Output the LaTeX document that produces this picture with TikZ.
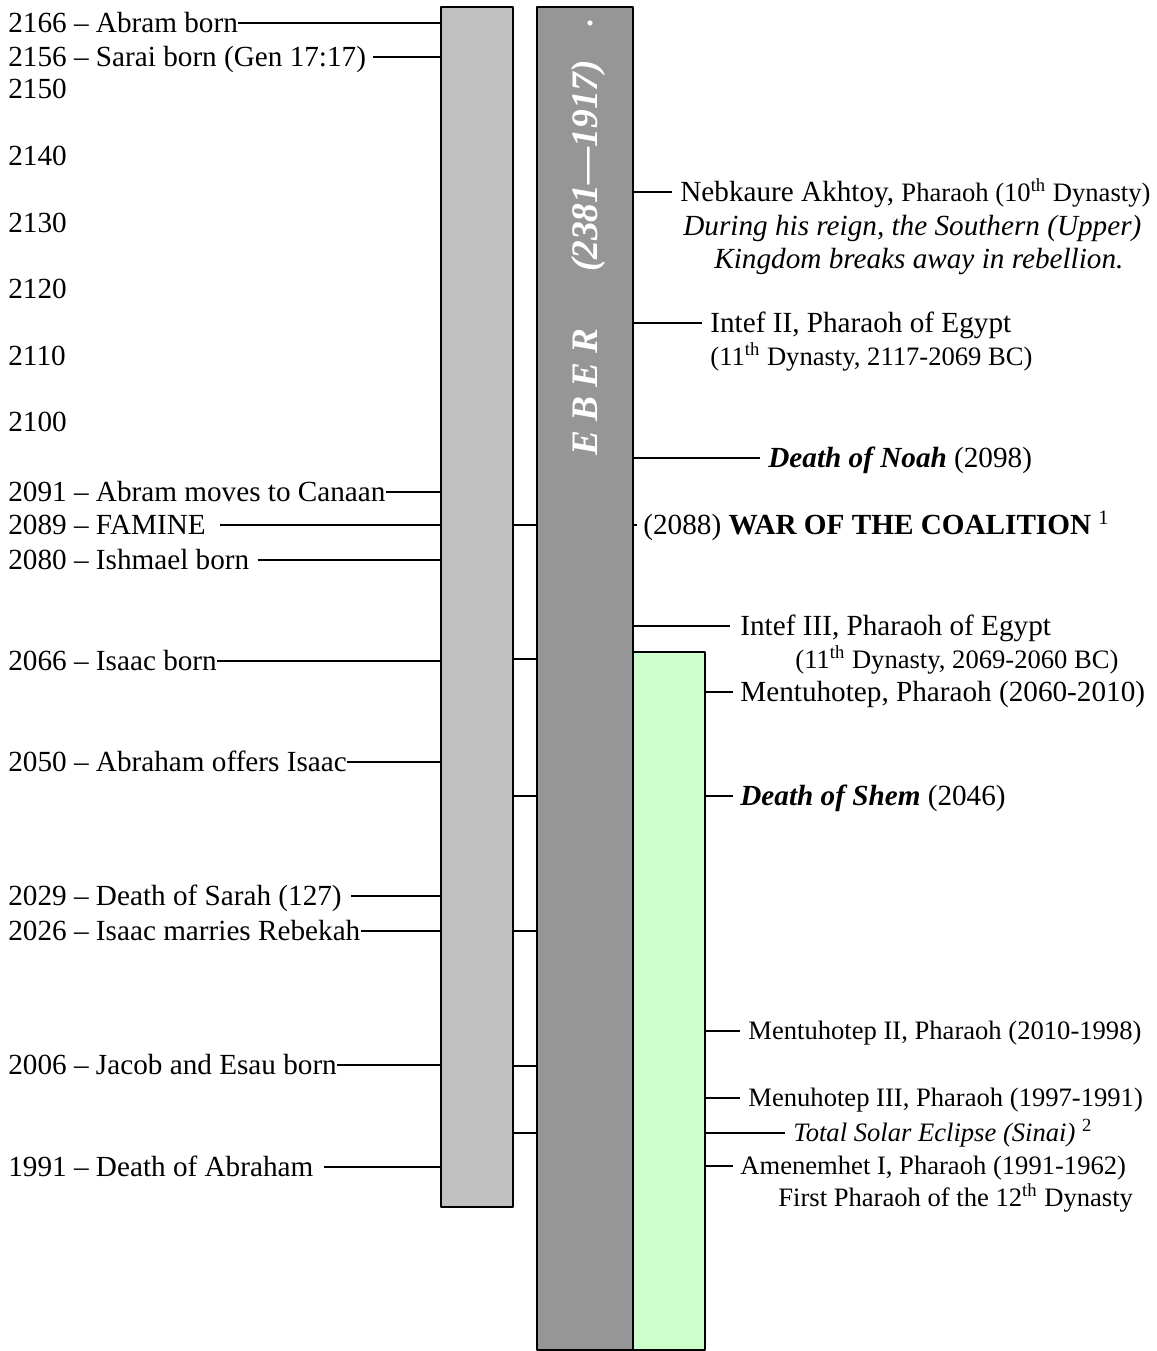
\documentclass[tikz,border=0pt]{standalone}
\usepackage{fontspec}
\setmainfont{Liberation Serif}
\usetikzlibrary{fit}
\definecolor{lgrey}{HTML}{C0C0C0}
\definecolor{dgrey}{HTML}{969696}
\definecolor{mint}{HTML}{CCFFCC}
\newcommand{\evfont}{\fontsize{14.6}{17}\selectfont}
\newcommand{\smfont}{\fontsize{13.3}{16}\selectfont}

\begin{document}
\begin{tikzpicture}[x=0.5pt,y=-0.5pt,line join=round,
  bar/.style={draw=black,line width=1pt,inner sep=0pt},
  ev/.style={inner sep=0pt,anchor=west,text height=9.7pt,text depth=0pt,font=\evfont},
  evs/.style={inner sep=0pt,anchor=west,text height=8.8pt,text depth=0pt,font=\smfont},
  tick/.style={draw=black,line width=0.6pt}]
  \useasboundingbox (0,0) rectangle (1157,1351);
  % the three bars
  \node[bar,fill=lgrey,fit={(441,7) (513,1207)}] (lbar) {};
  \node[bar,fill=dgrey,fit={(537,7) (633,1350)}] (dbar) {};
  \node[bar,fill=mint,fit={(633,652) (705,1350)}] (gbar) {};
  \node[rotate=90,inner sep=0pt,text height=12.3pt,text depth=0pt,text=white,
    font=\fontsize{18.7}{19}\selectfont\bfseries\itshape] (eber) at (585,258) {E B E R\hspace{1.5em}(2381---1917)};
  \fill[white] (590,23) circle (1.3pt);
  % left column: Abraham
  \node[ev] (a2166) at (8,23) {2166 -- Abram born};
  \node[ev] (a2156) at (8,57) {2156 -- Sarai born (Gen 17:17)};
  \foreach \yr/\yy in {2150/89,2140/156,2130/223,2120/289,2110/356,2100/422}
    \node[ev] (y\yr) at (8,\yy) {\yr};
  \node[ev] (a2091) at (8,492) {2091 -- Abram moves to Canaan};
  \node[ev] (a2089) at (8,525) {2089 -- FAMINE};
  \node[ev] (a2080) at (8,560) {2080 -- Ishmael born};
  \node[ev] (a2066) at (8,661) {2066 -- Isaac born};
  \node[ev] (a2050) at (8,762) {2050 -- Abraham offers Isaac};
  \node[ev] (a2029) at (8,896) {2029 -- Death of Sarah (127)};
  \node[ev] (a2026) at (8,931) {2026 -- Isaac marries Rebekah};
  \node[ev] (a2006) at (8,1065) {2006 -- Jacob and Esau born};
  \node[ev] (a1991) at (8,1167) {1991 -- Death of Abraham};
  \foreach \n/\g in {a2166/0,a2156/3.5,a2091/0,a2089/7,a2080/4,a2066/0,a2050/0,a2029/4.5,a2026/0,a2006/0,a1991/5}
    \draw[tick] ([xshift=\g pt]\n.east) -- (\n.east -| lbar.west);
  \foreach \yy in {525,659,796,931,1066,1133}
    \draw[tick] (lbar.east |- 0,\yy) -- (dbar.west |- 0,\yy);
  % right column: Egypt
  \node[ev] (nebk) at (680,192) {Nebkaure Akhtoy, {\smfont Pharaoh (10\textsuperscript{th} Dynasty)}};
  \node[ev,font=\evfont\itshape] (nebkb) at (683,226) {During his reign, the Southern (Upper)};
  \node[ev,font=\evfont\itshape] (nebkc) at (714,259) {Kingdom breaks away in rebellion.};
  \node[ev] (intef2) at (710,323) {Intef II, Pharaoh of Egypt};
  \node[evs] (intef2b) at (710,357) {(11\textsuperscript{th} Dynasty, 2117-2069 BC)};
  \node[ev] (noah) at (768,458) {\textbf{\textit{Death of Noah}} (2098)};
  \node[ev] (war) at (643,525) {(2088) \textbf{WAR OF THE COALITION} \textsuperscript{1}};
  \node[ev] (intef3) at (740,626) {Intef III, Pharaoh of Egypt};
  \node[evs] (intef3b) at (795,660) {(11\textsuperscript{th} Dynasty, 2069-2060 BC)};
  \draw[tick] (dbar.east |- nebk.west) -- ([xshift=-4pt]nebk.west);
  \draw[tick] (dbar.east |- intef2.west) -- ([xshift=-4pt]intef2.west);
  \draw[tick] (dbar.east |- noah.west) -- ([xshift=-4pt]noah.west);
  \draw[tick] (dbar.east |- war.west) -- ([xshift=-3pt]war.west);
  \draw[tick] (dbar.east |- intef3.west) -- ([xshift=-5pt]intef3.west);
  \node[ev] (mentu) at (740,692) {Mentuhotep, Pharaoh (2060-2010)};
  \node[ev] (shem) at (740,796) {\textbf{\textit{Death of Shem}} (2046)};
  \node[evs] (mentu2) at (748,1031) {Mentuhotep II, Pharaoh (2010-1998)};
  \node[evs] (mentu3) at (748,1098) {Menuhotep III, Pharaoh (1997-1991)};
  \node[evs,font=\smfont\itshape] (eclipse) at (793,1133) {Total Solar Eclipse (Sinai) \textsuperscript{\upshape 2}};
  \node[evs] (amen) at (740,1166) {Amenemhet I, Pharaoh (1991-1962)};
  \node[evs] (amenb) at (778,1198) {First Pharaoh of the 12\textsuperscript{th} Dynasty};
  \foreach \n/\g in {mentu/3.5,shem/3.5,mentu2/4,mentu3/4,eclipse/4,amen/3.5}
    \draw[tick] (gbar.east |- \n.west) -- ([xshift=-\g pt]\n.west);
\end{tikzpicture}
\end{document}
